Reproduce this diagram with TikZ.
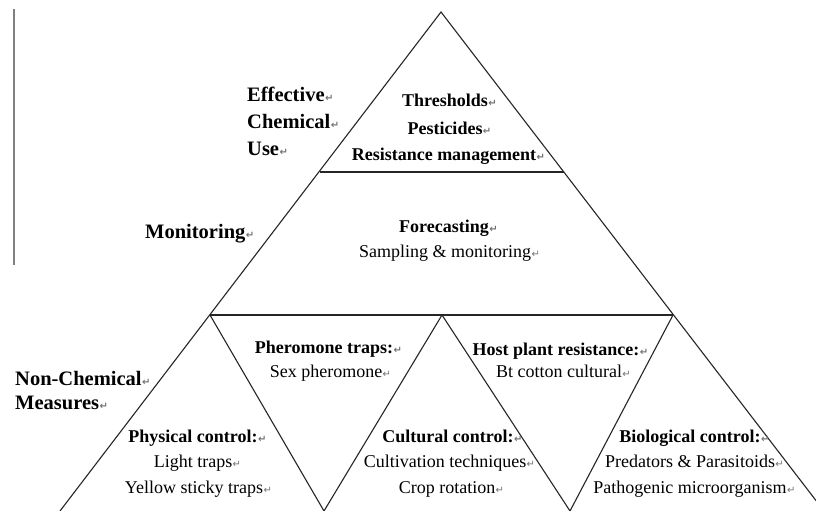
\documentclass[tikz,border=0pt]{standalone}
\usepackage{fontspec}
\setmainfont{Liberation Serif}
\newfontfamily\retfont{DejaVu Sans}
\newcommand{\ret}{\rlap{\kern0.5pt{\retfont\fontsize{10}{10}\selectfont\color{black!55}↵}}}
\tikzset{
  txt/.style={anchor=base, inner sep=0pt, font=\fontsize{18}{22}\selectfont},
  btxt/.style={txt, font=\fontsize{18}{22}\selectfont\bfseries},
  ltxt/.style={txt, anchor=base west, font=\fontsize{20.5}{24}\selectfont\bfseries},
  edge/.style={draw=black!85, line width=1.1pt},
  hedge/.style={draw=black!85, line width=1.7pt},
}
\begin{document}
\begin{tikzpicture}[x=1pt,y=-1pt]
\useasboundingbox (0,0) rectangle (816,511);
\fill[white] (0,0) rectangle (816,511);
% stray vertical rule at left
\coordinate (vt) at (14,9);
\coordinate (vb) at (14,265);
\draw[black!50, line width=1.5pt] (vt) -- (vb);
% pyramid geometry
\coordinate (apex) at (441,12);
\coordinate (L) at (60,511);
\coordinate (R) at (824,511);
\coordinate (m1L) at (319.5,172);
\coordinate (m1R) at (563.5,172);
\coordinate (m2L) at (210,315);
\coordinate (m2R) at (673,315);
\coordinate (mid) at (442,315);
\coordinate (b1) at (324,511);
\coordinate (b2) at (570,511);
\draw[edge] (L) -- (apex) -- (R);
\draw[hedge] (m1L) -- (m1R);
\draw[hedge] (m2L) -- (m2R);
\draw[edge] (m2L) -- (b1) -- (mid) -- (b2) -- (m2R);
% side labels
\node[ltxt] (eff) at (247,101) {Effective\ret};
\node[ltxt] (chem) at (247,128) {Chemical\ret};
\node[ltxt] (use) at (247,155) {Use\ret};
\node[ltxt] (mon) at (145,238) {Monitoring\ret};
\node[ltxt] (nonchem) at (15,385) {Non-Chemical\ret};
\node[ltxt] (meas) at (15,409) {Measures\ret};
% top
\node[btxt] (thr) at (445,106) {Thresholds\ret};
\node[btxt] (pest) at (445,134) {Pesticides\ret};
\node[btxt] (resm) at (444,160) {Resistance management\ret};
% middle
\node[btxt] (fore) at (444,232) {Forecasting\ret};
\node[txt] (samp) at (445,257) {Sampling \& monitoring\ret};
% bottom inverted triangles
\node[btxt] (pher) at (324,353) {Pheromone traps:\ret};
\node[txt] (sex) at (326,377) {Sex pheromone\ret};
\node[btxt] (host) at (556,355) {Host plant resistance:\ret};
\node[txt] (bt) at (559,377) {Bt cotton cultural\ret};
% bottom upright triangles
\node[btxt] (phys) at (193,442) {Physical control:\ret};
\node[txt] (light) at (193,467) {Light traps\ret};
\node[txt] (yell) at (194,493) {Yellow sticky traps\ret};
\node[btxt] (cult) at (448,442) {Cultural control:\ret};
\node[txt] (cultiv) at (445,467) {Cultivation techniques\ret};
\node[txt] (crop) at (447,493) {Crop rotation\ret};
\node[btxt] (bio) at (690,442) {Biological control:\ret};
\node[txt] (pred) at (690,467) {Predators \& Parasitoids\ret};
\node[txt] (path) at (690,493) {Pathogenic microorganism\ret};
\end{tikzpicture}
\end{document}
